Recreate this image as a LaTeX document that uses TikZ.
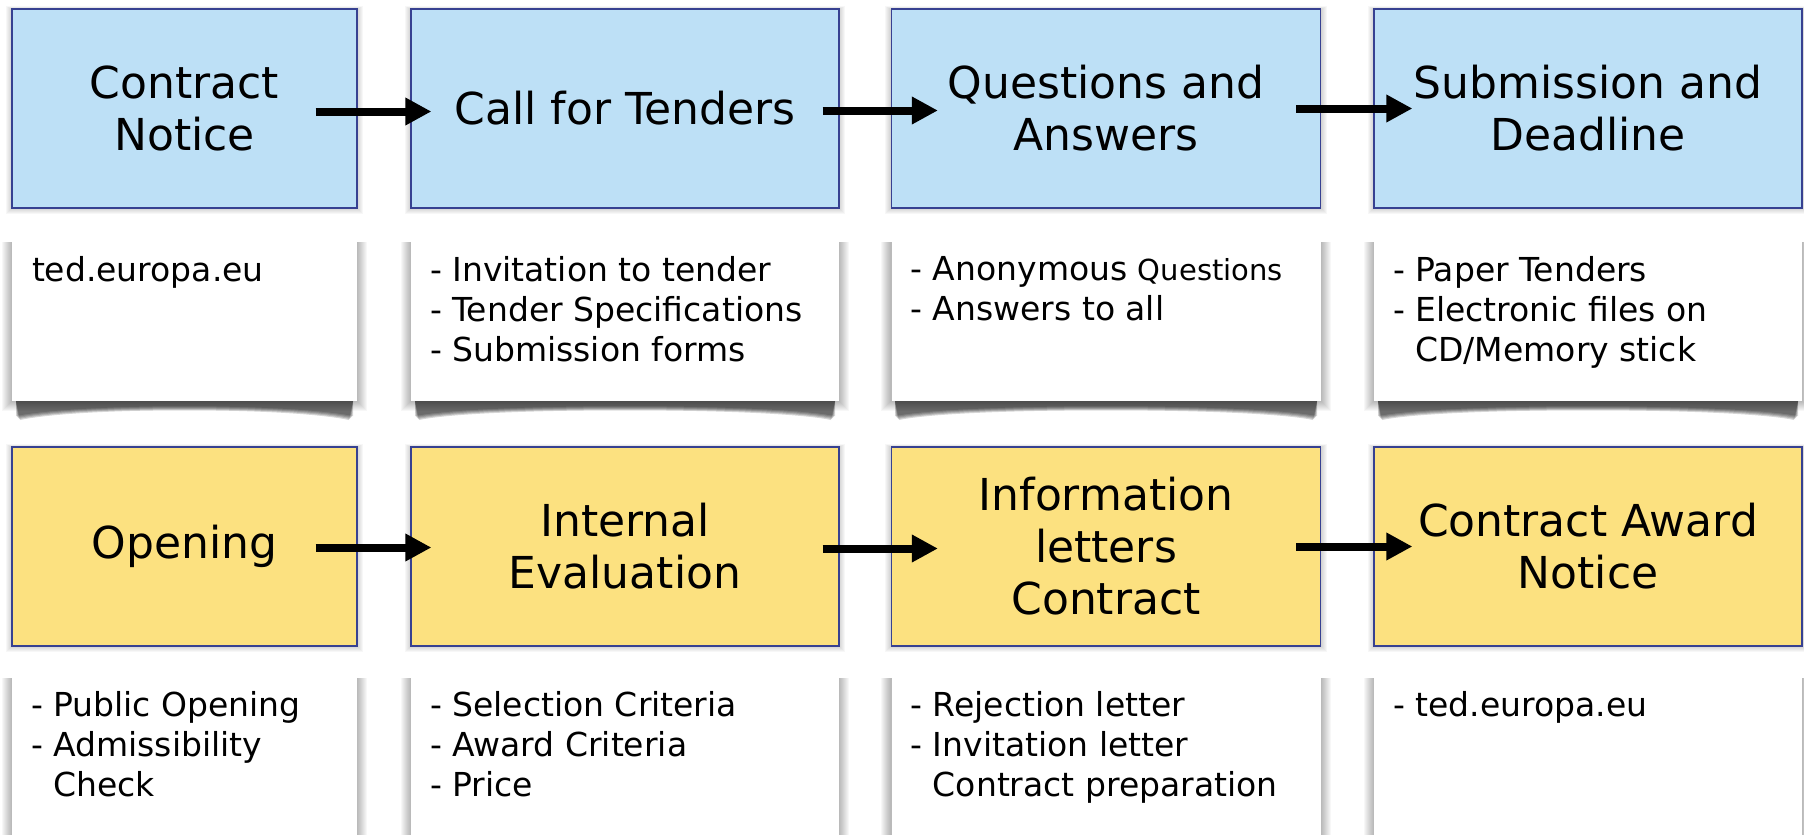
\documentclass[tikz,border=0pt]{standalone}
\usepackage{fontspec}
\setmainfont{DejaVu Sans}
\usetikzlibrary{arrows.meta}
\definecolor{stepblue}{RGB}{189,224,246}
\definecolor{stepyellow}{RGB}{252,225,128}
\definecolor{edgeblue}{RGB}{55,65,145}

\begin{document}
\begin{tikzpicture}[x=1pt, y=-1pt,
  titlebox/.style={draw=edgeblue, line width=1.2pt, minimum height=199pt, inner sep=0pt, align=center, font=\fontsize{44}{52}\selectfont},
  notebox/.style={fill=white, inner sep=0pt},
  notetext/.style={anchor=north west, inner sep=0pt, align=left, font=\fontsize{33}{40}\selectfont},
  flow/.style={line width=8pt, -{Triangle[length=26pt,width=26pt]}}]
\useasboundingbox (0,0) rectangle (1804,835);
\clip (0,0) rectangle (1804,835);

%% soft shadows (stacked transparent fills)
\foreach \l/\r in {12/357, 411/839, 891/1321, 1374/1802}
  {
  \foreach \i in {1,...,6}
    {
    \fill[black, opacity=0.03] (\l-\i, 9-\i/2) rectangle (\r+\i, 208+\i);
    \fill[black, opacity=0.03] (\l-\i, 447-\i/2) rectangle (\r+\i, 646+\i);
    }
  \foreach \t/\b in {226/401, 662/900}
    {
    \foreach \i in {1,...,10}
      \fill[black, opacity=0.03] (\l-\i, \t+16) rectangle (\r+\i, \b+\i);
    \foreach \i in {0,...,4}
      \fill[black, opacity=0.16] (\l+4, \b) -- (\r-4, \b) -- (\r-4-\i, \b+15+\i)
        .. controls (\r-70, \b+2+\i) and (\l+70, \b+2+\i) .. (\l+4+\i, \b+15+\i) -- cycle;
    }
  }

%% call and tendering (top row)
\node[titlebox, fill=stepblue, minimum width=345pt] (cn) at (184.5,108.5) {Contract\\Notice};
\node[titlebox, fill=stepblue, minimum width=428pt] (cft) at (625,108.5) {Call for Tenders};
\node[titlebox, fill=stepblue, minimum width=429pt] (qa) at (1106,108.5) {Questions and\\Answers};
\node[titlebox, fill=stepblue, minimum width=428pt] (sd) at (1588,108.5) {Submission and\\Deadline};

\node[notebox, minimum width=345pt, minimum height=175pt] (cnnote) at (184.5,313.5) {};
\node[notebox, minimum width=428pt, minimum height=175pt] (cftnote) at (625,313.5) {};
\node[notebox, minimum width=429pt, minimum height=175pt] (qanote) at (1106,313.5) {};
\node[notebox, minimum width=428pt, minimum height=175pt] (sdnote) at (1588,313.5) {};

\node[notetext] (cntext) at ([xshift=20pt, yshift=-30pt]cnnote.north west) {ted.europa.eu};
\node[notetext] (cfttext) at ([xshift=19pt, yshift=-30pt]cftnote.north west)
  {- Invitation to tender\\- Tender Specifications\\- Submission forms};
\node[notetext] (qatext) at ([xshift=19pt, yshift=-30pt]qanote.north west)
  {- Anonymous {\fontsize{29}{40}\selectfont Questions}\\- Answers to all};
\node[notetext] (sdtext) at ([xshift=19pt, yshift=-30pt]sdnote.north west)
  {- Paper Tenders\\- Electronic files on\\\hphantom{- }CD/Memory stick};

%% opening and award (bottom row)
\node[titlebox, fill=stepyellow, minimum width=345pt] (op) at (184.5,546.5) {Opening};
\node[titlebox, fill=stepyellow, minimum width=428pt] (ie) at (625,546.5) {Internal\\Evaluation};
\node[titlebox, fill=stepyellow, minimum width=429pt] (il) at (1106,546.5) {Information\\letters\\Contract};
\node[titlebox, fill=stepyellow, minimum width=428pt] (can) at (1588,546.5) {Contract Award\\Notice};

\node[notebox, minimum width=345pt, minimum height=238pt] (opnote) at (184.5,781) {};
\node[notebox, minimum width=428pt, minimum height=238pt] (ienote) at (625,781) {};
\node[notebox, minimum width=429pt, minimum height=238pt] (ilnote) at (1106,781) {};
\node[notebox, minimum width=428pt, minimum height=238pt] (cannote) at (1588,781) {};

\node[notetext] (optext) at ([xshift=19pt, yshift=-29pt]opnote.north west)
  {- Public Opening\\- Admissibility\\\hphantom{- }Check};
\node[notetext] (ietext) at ([xshift=19pt, yshift=-29pt]ienote.north west)
  {- Selection Criteria\\- Award Criteria\\- Price};
\node[notetext] (iltext) at ([xshift=19pt, yshift=-29pt]ilnote.north west)
  {- Rejection letter\\- Invitation letter\\\hphantom{- }Contract preparation};
\node[notetext] (cantext) at ([xshift=19pt, yshift=-29pt]cannote.north west) {- ted.europa.eu};

%% arrows
\draw[flow] ([xshift=-42pt, yshift=-3pt]cn.east) -- ([xshift=21pt, yshift=-3pt]cft.west);
\draw[flow] ([xshift=-17pt, yshift=-2pt]cft.east) -- ([xshift=47pt, yshift=-2pt]qa.west);
\draw[flow] ([xshift=-25pt]qa.east) -- ([xshift=39pt]sd.west);
\draw[flow] ([xshift=-42pt, yshift=-1pt]op.east) -- ([xshift=21pt, yshift=-1pt]ie.west);
\draw[flow] ([xshift=-17pt, yshift=-2pt]ie.east) -- ([xshift=47pt, yshift=-2pt]il.west);
\draw[flow] ([xshift=-25pt]il.east) -- ([xshift=39pt]can.west);

\end{tikzpicture}
\end{document}
